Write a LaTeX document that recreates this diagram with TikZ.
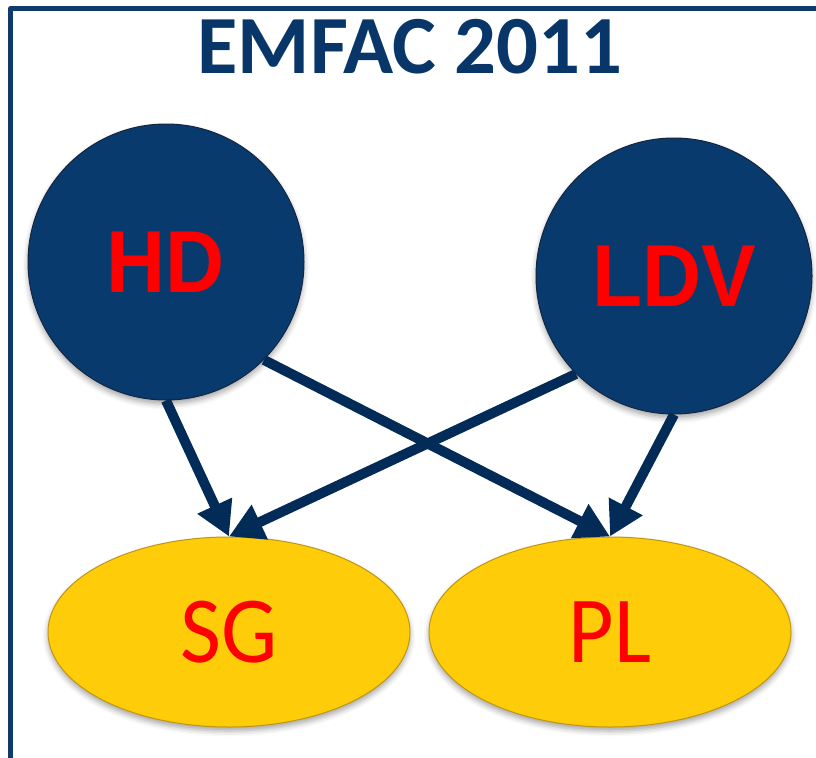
\documentclass[tikz,border=0pt]{standalone}
\usepackage{graphicx}
\usepackage{fontspec}
\setmainfont{Carlito}
\newfontfamily\arialfont{Liberation Sans}
\usetikzlibrary{shapes.geometric,arrows.meta,shadows.blur}

\definecolor{titleNavy}{RGB}{8,54,104}
\definecolor{frameNavy}{RGB}{14,58,108}
\definecolor{circleBlue}{RGB}{9,58,110}
\definecolor{circleEdge}{RGB}{20,38,62}
\definecolor{arrowNavy}{RGB}{2,43,87}
\definecolor{fuelGold}{RGB}{254,204,8}
\definecolor{fuelEdge}{RGB}{190,150,20}
\definecolor{labelRed}{RGB}{255,0,0}

\tikzset{every picture/.style={line width=0.75pt}}

\begin{document}
\begin{tikzpicture}[x=0.75pt,y=0.75pt,yscale=-1,xscale=1,
  vehicle/.style={circle, minimum size=207pt, inner sep=0pt, fill=circleBlue, draw=circleEdge,
    blur shadow={shadow xshift=0pt, shadow yshift=-3pt, shadow blur radius=4pt, shadow opacity=35},
    text=labelRed, font=\arialfont\bfseries\fontsize{66}{70}\selectfont},
  fuel/.style={ellipse, minimum width=271.5pt, minimum height=142.5pt, inner sep=0pt, fill=fuelGold, draw=fuelEdge,
    blur shadow={shadow xshift=0pt, shadow yshift=-3pt, shadow blur radius=4pt, shadow opacity=35},
    text=labelRed, font=\fontsize{71}{74}\selectfont},
  flow/.style={draw=arrowNavy, line width=7.5pt, -{Triangle[length=25.5pt,width=27pt]}}]
\useasboundingbox (0,0) rectangle (816,757);
\clip (0,0) rectangle (816,757);

%Shape: Rectangle
\draw [frameNavy, line width=3.4pt, line join=round] (10.5,8.5) rectangle (840,790);

%Title
\node [text=titleNavy, font=\bfseries\fontsize{62}{66}\selectfont] (title) at (410,46.5) {EMFAC 2011};

%Shape: Circle
\node [vehicle] (HD) at (166,262) {\scalebox{0.93}[1]{HD}};
%Shape: Circle
\node [vehicle] (LDV) at (674,276) {\scalebox{0.93}[1]{LDV}};

%Shape: Ellipse
\node [fuel] (SG) at (229,632) {\scalebox{0.94}[1]{SG}};
%Shape: Ellipse
\node [fuel] (PL) at (610,632) {\scalebox{0.93}[1]{PL}};

%Straight Lines
\draw [flow] (HD.south) -- (SG.north);
\draw [flow] (HD.south east) -- (PL.north);
\draw [flow] (LDV.south west) -- (SG.north);
\draw [flow] (LDV.south) -- (PL.north);

\end{tikzpicture}
\end{document}
